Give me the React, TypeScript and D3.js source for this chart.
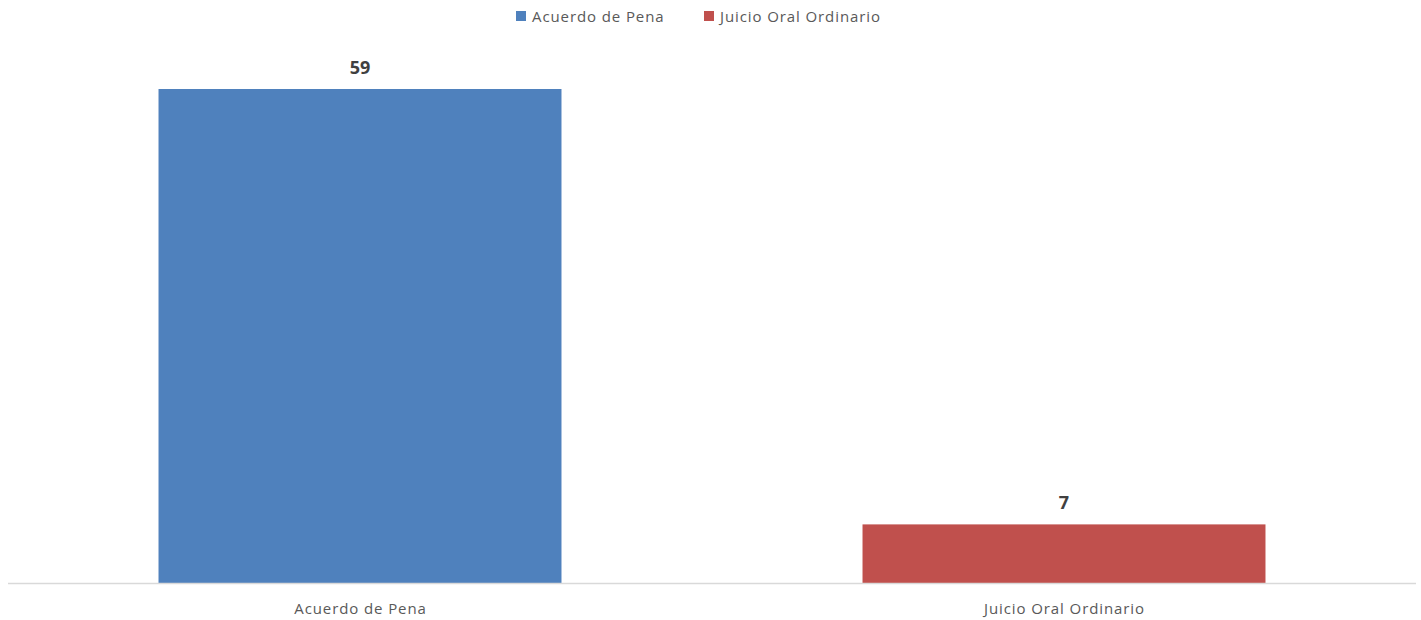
import React from "react";
import * as d3 from "d3";

const categories = ["Acuerdo de Pena", "Juicio Oral Ordinario"];
const values = [59, 7];
const colors = ["#4F81BD", "#C0504D"];

const W = 1421;
const H = 620;
const FONT = "'Open Sans', 'Liberation Sans', Arial, sans-serif";

export default function App() {
  const x = d3
    .scaleBand<string>()
    .domain(categories)
    .range([8, 1416])
    .paddingInner(0.4276)
    .paddingOuter(0.2138);
  const y = d3.scaleLinear().domain([0, 59]).range([583, 89]);

  const legendItems = [
    { label: categories[0], color: colors[0], x: 516 },
    { label: categories[1], color: colors[1], x: 704 },
  ];

  return (
    <svg
      width={W}
      height={H}
      style={{ position: "absolute", left: 0, top: 0, background: "#fff" }}
      fontFamily={FONT}
    >
      {legendItems.map((d) => (
        <g key={d.label}>
          <rect x={d.x} y={11} width={10} height={10} fill={d.color} />
          <text x={d.x + 16} y={22} fontSize={15} letterSpacing={0.9} fill="#595959">
            {d.label}
          </text>
        </g>
      ))}
      {categories.map((c, i) => (
        <g key={c}>
          <rect
            x={x(c)}
            y={y(values[i])}
            width={x.bandwidth()}
            height={y(0) - y(values[i])}
            fill={colors[i]}
          />
          <text
            x={(x(c) as number) + x.bandwidth() / 2}
            y={y(values[i]) - 15}
            textAnchor="middle"
            fontSize={18}
            fontWeight="bold"
            fill="#404040"
          >
            {values[i]}
          </text>
          <text
            x={(x(c) as number) + x.bandwidth() / 2 + 0.5}
            y={614}
            textAnchor="middle"
            fontSize={15}
            letterSpacing={0.9}
            fill="#595959"
          >
            {c}
          </text>
        </g>
      ))}
      <line x1={8} x2={1416} y1={583.5} y2={583.5} stroke="#D9D9D9" strokeWidth={1.5} />
    </svg>
  );
}
